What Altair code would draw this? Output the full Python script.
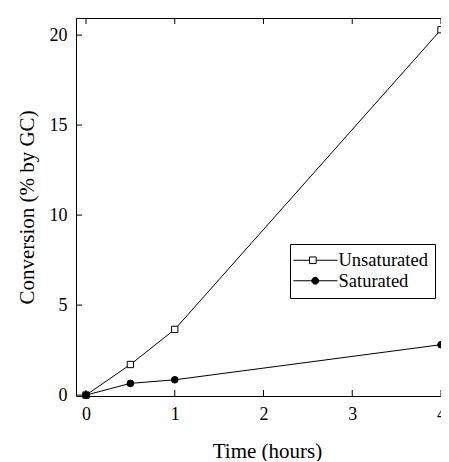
import altair as alt
import pandas as pd

# ---- data ----
time_h = [0, 0.5, 1, 4]
unsaturated = [0.0, 1.7, 3.65, 20.3]
saturated = [0.0, 0.65, 0.85, 2.8]
series_names = ["Unsaturated", "Saturated"]
x_ticks = [0, 1, 2, 3, 4]
y_ticks = [0, 5, 10, 15, 20]

rows = []
for name, vals in zip(series_names, [unsaturated, saturated]):
    for t, v in zip(time_h, vals):
        rows.append({"time": t, "conv": v, "series": name})
df = pd.DataFrame(rows)
xt = pd.DataFrame({"t": x_ticks})
yt = pd.DataFrame({"t": y_ticks})

W, H = 366, 378
FONT = "Liberation Serif"
xscale = alt.Scale(domain=[-0.1127, 4.0113], nice=False, zero=False)
yscale = alt.Scale(domain=[-0.05, 20.95], nice=False, zero=False)

x_axis = alt.Axis(title="Time (hours)", values=x_ticks, format="d",
                  labelPadding=9, titlePadding=17, titleX=191)
y_axis = alt.Axis(title="Conversion (% by GC)", values=y_ticks, format="d",
                  labelPadding=9, titlePadding=12)

X = alt.X("time:Q", scale=xscale, axis=x_axis)
Y = alt.Y("conv:Q", scale=yscale, axis=y_axis)

lines = alt.Chart(df).mark_line(color="black", strokeWidth=1).encode(
    x=X, y=Y, detail="series:N")

pts_u = alt.Chart(df).transform_filter(
    alt.datum.series == series_names[0]).mark_point(
    shape="square", filled=True, fill="white", stroke="black",
    strokeWidth=1, size=40, opacity=1).encode(x=X, y=Y)
pts_s = alt.Chart(df).transform_filter(
    alt.datum.series == series_names[1]).mark_point(
    shape="circle", filled=True, fill="black", stroke="black",
    strokeWidth=1, size=44, opacity=1).encode(x=X, y=Y)

# legend symbols: line with marker, unit = 3px
path_u = "M-4.3,0H1.1M3.3,0H10.4M1.1,-1.1H3.3V1.1H1.1Z"
path_s = "M-4.3,0H10.4M4.15,0A1.15,1.15,0,1,1,1.85,0A1.15,1.15,0,1,1,4.15,0Z"
leg = alt.Legend(title=None, orient="none", legendX=214, legendY=226,
                 labelFont=FONT, labelFontSize=18.5, labelColor="black",
                 labelOffset=23, symbolSize=36, symbolStrokeWidth=1,
                 strokeColor="black", fillColor="white", padding=7,
                 rowPadding=1.5, cornerRadius=0)
legend_layer = alt.Chart(df).transform_filter("false").mark_point(
    filled=True, strokeWidth=1, size=36, opacity=1).encode(
    x=X, y=Y,
    shape=alt.Shape("series:N", scale=alt.Scale(domain=series_names,
                                                range=[path_u, path_s]),
                    legend=leg),
    fill=alt.Fill("series:N", scale=alt.Scale(domain=series_names,
                                              range=["white", "black"]),
                  legend=leg),
    stroke=alt.Stroke("series:N", scale=alt.Scale(domain=series_names,
                                                  range=["black", "black"]),
                      legend=leg),
)

tick_len = 6
xb = alt.Chart(xt).mark_rule(color="black", strokeWidth=1).encode(
    x=alt.X("t:Q", scale=xscale, axis=x_axis),
    y=alt.value(H), y2=alt.value(H - tick_len))
xtop = alt.Chart(xt).mark_rule(color="black", strokeWidth=1).encode(
    x=alt.X("t:Q", scale=xscale, axis=x_axis),
    y=alt.value(0), y2=alt.value(tick_len))
yl = alt.Chart(yt).mark_rule(color="black", strokeWidth=1).encode(
    y=alt.Y("t:Q", scale=yscale, axis=y_axis),
    x=alt.value(0), x2=alt.value(tick_len))

chart = alt.layer(lines, pts_u, pts_s, legend_layer, xb, xtop, yl).properties(
    width=W, height=H,
    autosize=alt.AutoSizeParams(type="none"),
    padding={"left": 68, "top": 10, "right": -1, "bottom": 65},
).configure_view(
    stroke="black", strokeWidth=1
).configure_axis(
    labelFont=FONT, labelFontSize=18, labelColor="black",
    titleFont=FONT, titleFontSize=21, titleColor="black",
    titleFontWeight="normal", grid=False, ticks=False, tickSize=0,
    domain=False,
)

chart.save("out.html", embed_options={"renderer": "svg", "actions": False})
